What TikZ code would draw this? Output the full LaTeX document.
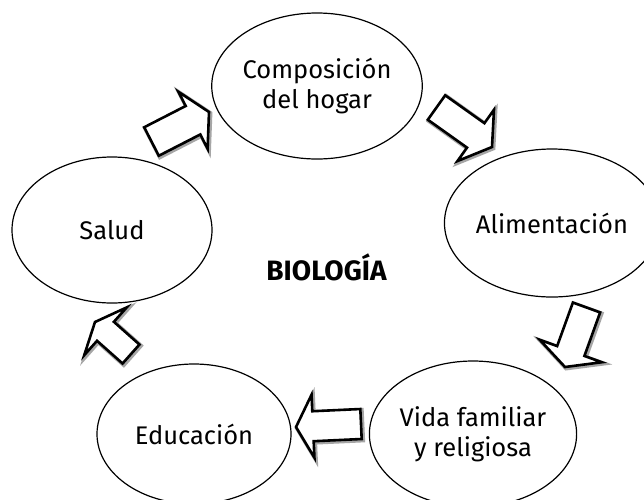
\documentclass[tikz,border=0pt]{standalone}
\usepackage{fontspec}
\setmainfont{Fira Sans}
\usetikzlibrary{shapes.geometric,calc}
\tikzset{
  bubble/.style={ellipse, draw, line width=1.2pt, inner sep=0pt, align=center,
    font=\fontsize{25.5}{30}\selectfont},
  arrowshadow/.style={draw=black!35, line width=4.4pt, line join=miter},
  arrowbody/.style={draw=black, fill=white, line width=2.6pt, line join=miter},
}
% #1 tail, #2 tip, #3 shaft half width, #4 head half width, #5 head length, #6 style
\newcommand{\arrshape}[6]{%
  \draw[#6] ($(#1)!#3!90:(#2)$) -- ($(bb)!#3!90:(#2)$) -- ($(bb)!#4!90:(#2)$) -- (#2)
    -- ($(bb)!#4!-90:(#2)$) -- ($(bb)!#3!-90:(#2)$) -- ($(#1)!#3!-90:(#2)$) -- cycle;}
\newcommand{\blockarr}[5]{%
  \coordinate (bb) at ($(#2)!#5!(#1)$);
  \begin{scope}[transform canvas={shift={(1.2pt,-1.2pt)}}]
    \arrshape{#1}{#2}{#3}{#4}{#5}{arrowshadow}
  \end{scope}
  \arrshape{#1}{#2}{#3}{#4}{#5}{arrowbody}}
\begin{document}
\begin{tikzpicture}[x=1pt,y=-1pt]
\clip (0,0) rectangle (644,499);
\fill[white] (0,0) rectangle (644,499);
% ellipses
\node[bubble, minimum width=200pt, minimum height=146pt] (comp) at (317,86) {Composición\\del hogar};
\node[bubble, minimum width=198pt, minimum height=148pt] (alim) at (552,223) {Alimentación};
\node[bubble, minimum width=200pt, minimum height=146pt] (vida) at (473,434) {Vida familiar\\y religiosa};
\node[bubble, minimum width=194pt, minimum height=140pt] (educ) at (194,434) {Educación};
\node[bubble, minimum width=200pt, minimum height=146pt] (salud) at (112,230) {Salud};
\node[font=\fontsize{28}{30}\selectfont\bfseries] (bio) at (326.5,267) {BIOLOGÍA};
% arrow end points
\coordinate (a1t) at (151.5,141.5); \coordinate (a1p) at (209,112);
\coordinate (a2t) at (436.5,107.5); \coordinate (a2p) at (492,147);
\coordinate (a3t) at (586.5,307.5); \coordinate (a3p) at (565,367);
\coordinate (a4t) at (361,424);     \coordinate (a4p) at (296,427);
\coordinate (a5t) at (131,354);     \coordinate (a5p) at (95,322);
\blockarr{a1t}{a1p}{16pt}{32pt}{18pt}
\blockarr{a2t}{a2p}{15pt}{31.5pt}{20pt}
\blockarr{a3t}{a3p}{14.5pt}{33pt}{17pt}
\blockarr{a4t}{a4p}{15pt}{31.5pt}{17pt}
\blockarr{a5t}{a5p}{12.7pt}{32pt}{14pt}
\end{tikzpicture}
\end{document}
